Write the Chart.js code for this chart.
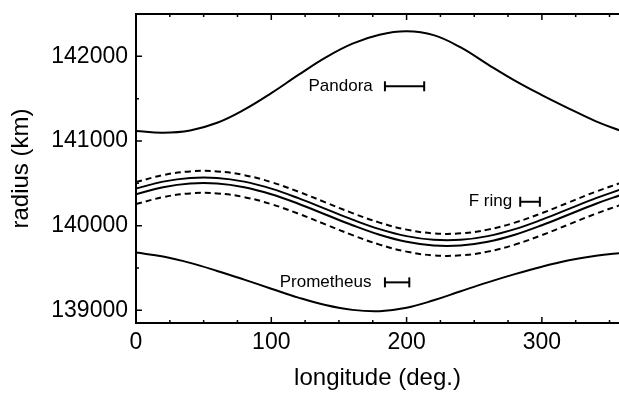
<!DOCTYPE html>
<html>
<head>
<meta charset="utf-8">
<script src="https://cdn.jsdelivr.net/npm/chart.js@4.4.1/dist/chart.umd.min.js"></script>
<style>
  html, body { margin: 0; padding: 0; background: #fff; overflow: hidden; }
  canvas { display: block; }
</style>
</head>
<body>
<canvas id="chart" width="619" height="394"></canvas>
<script>
// longitude samples (deg.)
const longitude = [0, 20, 40, 60, 80, 100, 120, 140, 160, 180, 200, 220, 240, 260, 280, 300, 320, 340, 360];

// radius (km)
const pandora = [141118, 141098, 141125, 141215, 141370, 141565, 141780, 141985, 142150, 142255, 142295, 142250, 142105, 141905, 141713, 141542, 141383, 141232, 141110];
const fringDashTop = [140514, 140597, 140641, 140641, 140597, 140514, 140402, 140275, 140148, 140036, 139953, 139909, 139909, 139953, 140036, 140148, 140275, 140402, 140514];
const fringTop = [140437, 140520, 140564, 140564, 140520, 140437, 140325, 140198, 140071, 139959, 139876, 139832, 139832, 139876, 139959, 140071, 140198, 140325, 140437];
const fringBottom = [140371, 140454, 140498, 140498, 140454, 140371, 140259, 140132, 140005, 139893, 139810, 139766, 139766, 139810, 139893, 140005, 140132, 140259, 140371];
const fringDashBottom = [140254, 140337, 140381, 140381, 140337, 140254, 140142, 140015, 139888, 139776, 139693, 139649, 139649, 139693, 139776, 139888, 140015, 140142, 140254];
const prometheus = [139682, 139635, 139560, 139465, 139362, 139255, 139150, 139062, 139005, 138990, 139030, 139118, 139225, 139330, 139427, 139515, 139590, 139645, 139680];

// labels with their longitude error bars
const labelNames = ['Pandora', 'F ring', 'Prometheus'];
const labelX = [175, 278, 174];
const labelY = [141646, 140282, 139330];
const barFrom = [184, 284, 184];
const barTo = [213, 298.5, 202];

const xTicks = [0, 100, 200, 300];
const yTicks = [139000, 140000, 141000, 142000];

const FONT = "'Liberation Sans', Arial, Helvetica, sans-serif";

const toPts = ys => longitude.map((x, i) => ({ x: x, y: ys[i] }));

const curve = (data, dash) => ({
    data: toPts(data),
    borderColor: '#000',
    borderWidth: 2,
    borderDash: dash || [],
    pointRadius: 0,
    tension: 0.4,
    fill: false
});

const bars = labelNames.map((n, i) => ({
    data: [{ x: barFrom[i], y: labelY[i] }, { x: barTo[i], y: labelY[i] }],
    borderColor: '#000',
    borderWidth: 2,
    pointStyle: 'line',
    rotation: 90,
    pointRadius: 5,
    pointBorderWidth: 2,
    pointBorderColor: '#000',
    fill: false
}));

// frame top line, inward minor ticks, text labels
const framePlugin = {
    id: 'frame',
    afterDraw(chart) {
        const { ctx, chartArea: a, scales: { x, y } } = chart;
        ctx.save();
        ctx.strokeStyle = '#000';
        ctx.lineWidth = 2;
        ctx.beginPath();
        ctx.moveTo(a.left, a.top);
        ctx.lineTo(a.right, a.top);
        ctx.stroke();

        ctx.lineWidth = 1.5;
        ctx.beginPath();
        for (let v = 0; v <= x.max; v += 25) {
            const px = x.getPixelForValue(v);
            const len = v % 100 === 0 ? 6 : 3;
            ctx.moveTo(px, a.bottom); ctx.lineTo(px, a.bottom - len);
            ctx.moveTo(px, a.top); ctx.lineTo(px, a.top + len);
        }
        for (let v = 139000; v <= y.max; v += 500) {
            const py = y.getPixelForValue(v);
            const len = v % 1000 === 0 ? 6 : 3;
            ctx.moveTo(a.left, py); ctx.lineTo(a.left + len, py);
        }
        ctx.stroke();

        ctx.fillStyle = '#000';
        ctx.font = '17px ' + FONT;
        ctx.textAlign = 'right';
        ctx.textBaseline = 'middle';
        labelNames.forEach((n, i) => {
            ctx.fillText(n, x.getPixelForValue(labelX[i]), y.getPixelForValue(labelY[i]));
        });
        ctx.restore();
    }
};

new Chart(document.getElementById('chart'), {
    type: 'line',
    data: {
        datasets: [
            curve(pandora),
            curve(fringDashTop, [6, 4]),
            curve(fringTop),
            curve(fringBottom),
            curve(fringDashBottom, [6, 4]),
            curve(prometheus),
            ...bars
        ]
    },
    options: {
        responsive: false,
        animation: false,
        layout: { autoPadding: false, padding: { top: 14, right: 0, left: 0, bottom: 0 } },
        plugins: {
            legend: { display: false },
            tooltip: { enabled: false }
        },
        scales: {
            x: {
                type: 'linear',
                min: 0,
                max: 357,
                afterBuildTicks: s => { s.ticks = xTicks.map(v => ({ value: v })); },
                afterFit: s => { s.height = 71; s.paddingLeft = 0; s.paddingRight = 0; },
                grid: { display: false, drawTicks: false },
                border: { display: true, color: '#000', width: 2 },
                ticks: { color: '#000', font: { family: FONT, size: 23 }, padding: 6, maxRotation: 0, callback: v => String(v) },
                title: {
                    display: true,
                    text: 'longitude (deg.)',
                    color: '#000',
                    font: { family: FONT, size: 24, lineHeight: 1 },
                    padding: { top: 0, bottom: 4 }
                }
            },
            y: {
                type: 'linear',
                min: 138850,
                max: 142500,
                afterBuildTicks: s => { s.ticks = yTicks.map(v => ({ value: v })); },
                afterFit: s => { s.width = 136; s.paddingTop = 0; s.paddingBottom = 0; },
                grid: { display: false, drawTicks: false },
                border: { display: true, color: '#000', width: 2 },
                ticks: { color: '#000', font: { family: FONT, size: 23 }, padding: 8, callback: v => String(v) },
                title: {
                    display: true,
                    text: 'radius (km)',
                    color: '#000',
                    font: { family: FONT, size: 24, lineHeight: 1 },
                    padding: { top: 9, bottom: 0 }
                }
            }
        }
    },
    plugins: [framePlugin]
});
</script>
</body>
</html>
